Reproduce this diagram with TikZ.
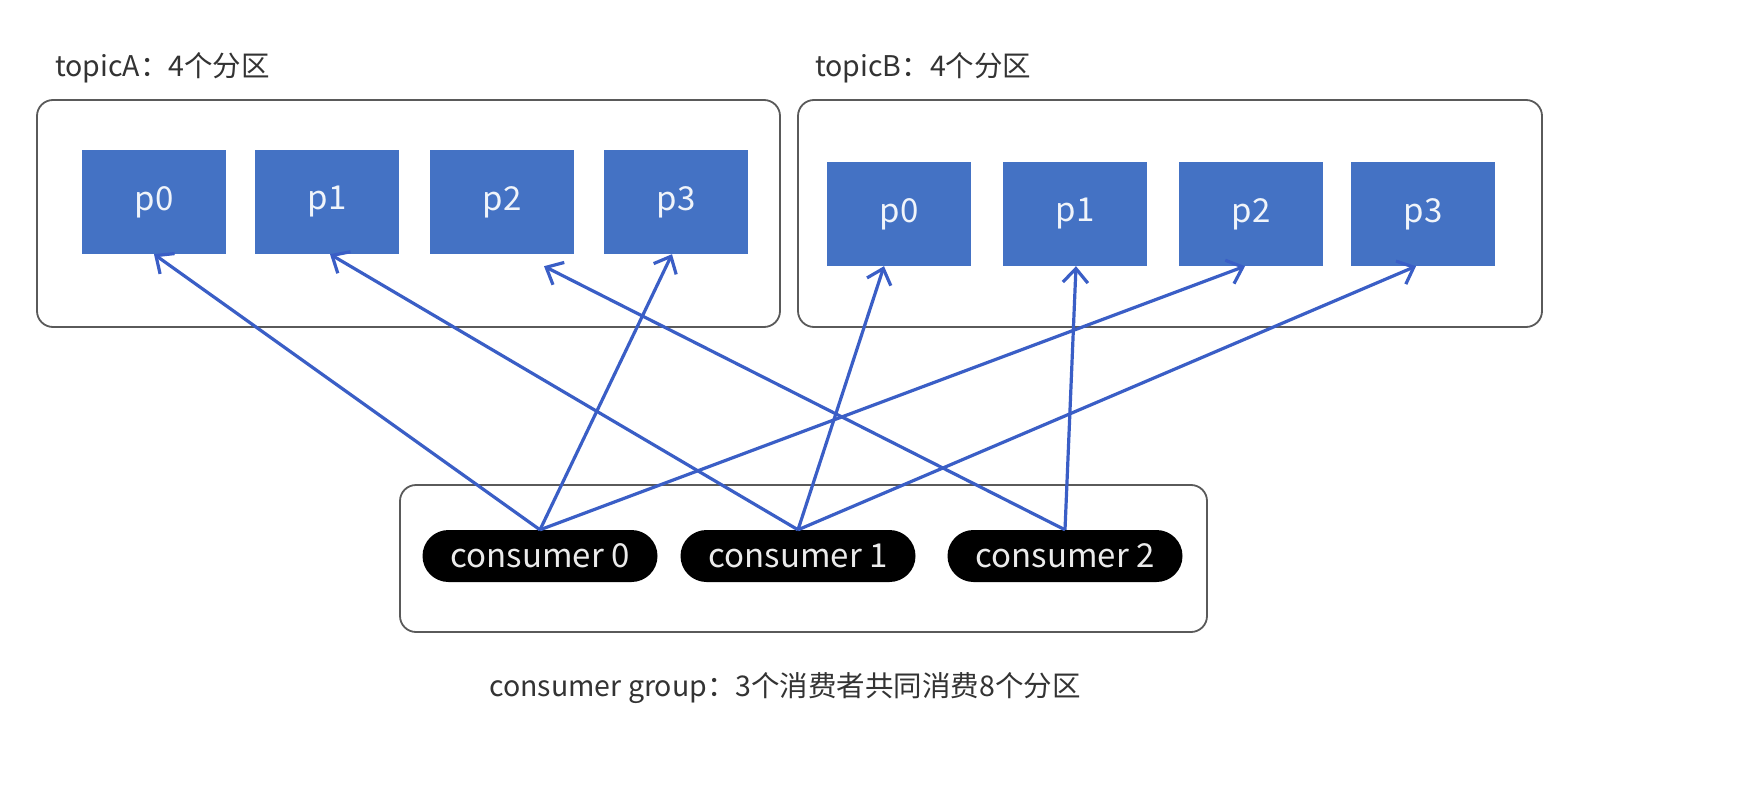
\documentclass[tikz,border=0pt]{standalone}
\usepackage{fontspec}
\setmainfont{Noto Sans CJK SC}
\usetikzlibrary{arrows.meta,calc,shapes.misc}
\definecolor{pblue}{HTML}{4472C4}
\definecolor{ablue}{HTML}{3A5EC6}
\definecolor{frame}{HTML}{5A5A5A}
\definecolor{txt}{HTML}{333333}
\tikzset{
  container/.style={draw=frame,line width=1.8pt,rounded corners=16pt},
  part/.style={fill=pblue,draw=none,minimum width=144pt,minimum height=104pt,
    text=white!92!pblue,font=\fontsize{33}{38}\selectfont,inner sep=0pt},
  cons/.style={fill=black,draw=none,rounded rectangle,minimum width=235pt,minimum height=52pt,
    text=white!92!black,font=\fontsize{33}{38}\selectfont,inner sep=0pt},
  lbl/.style={text=txt,font=\fontsize{28.5}{32}\selectfont,inner sep=0pt},
  link/.style={draw=ablue,line width=3.2pt,-{Straight Barb[length=14pt,width=25pt,line width=3.2pt]}}
}
\begin{document}
\begin{tikzpicture}[x=1pt,y=-1pt]
\useasboundingbox (0,0) rectangle (1744,810);
\fill[white] (0,0) rectangle (1744,810);
% labels
\node[lbl,anchor=west] (la) at (55,68) {topicA：4个分区};
\node[lbl,anchor=west] (lb) at (815,68) {topicB：4个分区};
\node[lbl] (lg) at (785,688) {consumer group：3个消费者共同消费8个分区};
% containers
\node[container,minimum width=743pt,minimum height=227pt] (ca) at (408.5,213.5) {};
\node[container,minimum width=744pt,minimum height=227pt] (cb) at (1170,213.5) {};
\node[container,minimum width=807pt,minimum height=147pt] (cg) at (803.5,558.5) {};
% partitions
\node[part] (a0) at (154,202) {p0};
\node[part] (a1) at (327,202) {p1};
\node[part] (a2) at (502,202) {p2};
\node[part] (a3) at (676,202) {p3};
\node[part] (b0) at (899,214) {p0};
\node[part] (b1) at (1075,214) {p1};
\node[part] (b2) at (1251,214) {p2};
\node[part] (b3) at (1423,214) {p3};
% consumers
\node[cons] (c0) at (540,556) {consumer 0};
\node[cons] (c1) at (798,556) {consumer 1};
\node[cons] (c2) at (1065,556) {consumer 2};
% links
\draw[link] (c0.north) -- (a0.south);
\draw[link] (c0.north) -- ($(a3.south)+(-4,0)$);
\draw[link] (c0.north) -- ($(b2.south)+(-6,0)$);
\draw[link] (c1.north) -- ($(a1.south)+(3,0)$);
\draw[link] (c1.north) -- ($(b0.south)+(-15,0)$);
\draw[link] (c1.north) -- ($(b3.south)+(-7,0)$);
\draw[link] (c2.north) -- ($(a2.south)+(42,12)$);
\draw[link] (c2.north) -- ($(b1.south)+(1,0)$);
\end{tikzpicture}
\end{document}
